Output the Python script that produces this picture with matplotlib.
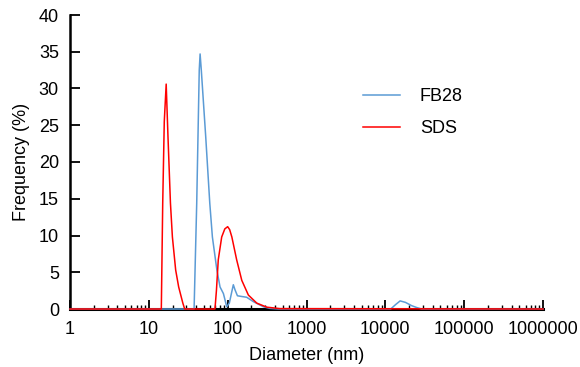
import matplotlib
matplotlib.use("Agg")
import matplotlib.pyplot as plt
from matplotlib.ticker import FixedLocator, FixedFormatter, LogLocator, NullFormatter

plt.rcParams['font.family'] = ['Liberation Sans', 'DejaVu Sans']

# FB28 (blue) — diameter (nm), frequency (%)
fb28_d = [1, 37.5, 40.5, 43.6, 44.7, 46.3, 52.7, 59.3, 64, 73, 80, 88.3, 97.4,
          105, 112, 118, 124, 133, 151, 174, 212, 284, 345, 450,
          11700, 13500, 15400, 18000, 21600, 25000, 28900, 1e6]
fb28_v = [0, 0, 14.4, 32.5, 34.7, 32.5, 23.4, 14.4, 9.8, 5.3, 3.0, 2.1, 0.3,
          0.8, 2.2, 3.3, 2.6, 1.8, 1.7, 1.6, 1.0, 0.3, 0.08, 0,
          0, 0.6, 1.1, 0.9, 0.45, 0.2, 0, 0]

# SDS (red)
sds_d = [1, 14.4, 15.0, 15.7, 16.6, 17.5, 18.8, 19.9, 21.9, 23.9, 27.0, 28.5, 32,
         69, 72, 76, 84, 92, 100, 106, 113, 130, 151, 183, 234, 313, 460, 1e6]
sds_v = [0, 0, 14.4, 25.5, 30.6, 23.4, 14.4, 9.8, 5.3, 3.0, 0.8, 0, 0,
         0, 2.5, 6.7, 9.8, 10.9, 11.2, 10.8, 9.8, 6.7, 3.9, 1.9, 0.8, 0.25, 0.05, 0]

x_ticks = [1, 10, 100, 1000, 10000, 100000, 1000000]
x_labels = ["1", "10", "100", "1000", "10000", "100000", "1000000"]
y_ticks = [0, 5, 10, 15, 20, 25, 30, 35, 40]

fs = 13
fig = plt.figure(figsize=(5.8, 3.67), dpi=100)
ax = fig.add_axes([70/580, 1-309/367, 473/580, 294/367])

ax.plot(fb28_d, fb28_v, color='#5B9BD5', lw=1.1, label='FB28', clip_on=False, zorder=5)
ax.plot(sds_d, sds_v, color='#FF0000', lw=1.1, label='SDS', clip_on=False, zorder=6)

ax.set_xscale('log')
ax.set_xlim(1, 1e6)
ax.set_ylim(0, 40)
ax.xaxis.set_major_locator(FixedLocator(x_ticks))
ax.xaxis.set_major_formatter(FixedFormatter(x_labels))
ax.xaxis.set_minor_locator(LogLocator(base=10, subs=range(2, 10), numticks=20))
ax.xaxis.set_minor_formatter(NullFormatter())
ax.set_yticks(y_ticks)

for s in ['top', 'right']:
    ax.spines[s].set_visible(False)
ax.spines['left'].set_linewidth(1.8)
ax.spines['bottom'].set_linewidth(2.2)

ax.tick_params(axis='x', which='major', direction='in', length=6.5, width=1.3, labelsize=fs, pad=9)
ax.tick_params(axis='x', which='minor', direction='in', length=3, width=1.0)
ax.tick_params(axis='y', which='major', direction='in', length=7, width=1.3, labelsize=fs, pad=8)

ax.set_xlabel('Diameter (nm)', fontsize=fs, labelpad=6)
ax.set_ylabel('Frequency (%)', fontsize=fs, labelpad=6)

ax.legend(loc='upper left', bbox_to_anchor=((363-70)/473, (309-88)/294), frameon=False,
          fontsize=fs, handlelength=2.05, handletextpad=1.1, labelspacing=0.85,
          borderpad=0, borderaxespad=0)

fig.savefig('out.png', dpi=100)
